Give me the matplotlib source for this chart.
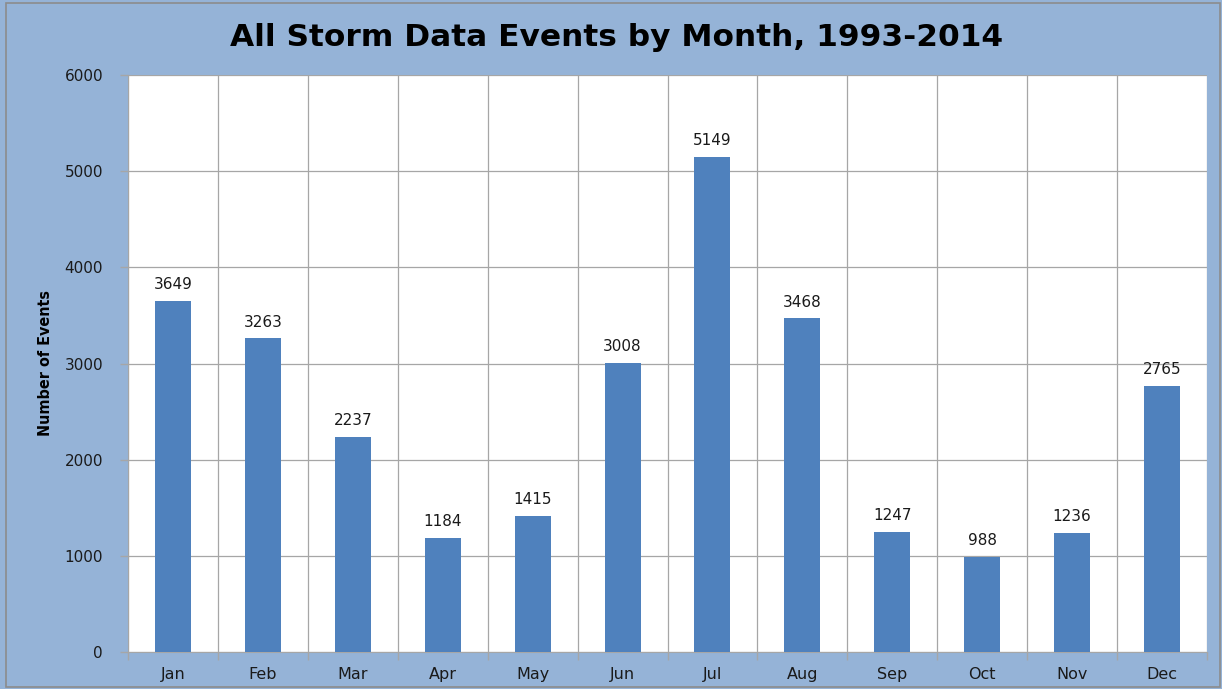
import matplotlib
matplotlib.use("Agg")
import matplotlib.pyplot as plt
from matplotlib.patches import Rectangle
import numpy as np

months = ["Jan", "Feb", "Mar", "Apr", "May", "Jun", "Jul", "Aug", "Sep", "Oct", "Nov", "Dec"]
events = [3649, 3263, 2237, 1184, 1415, 3008, 5149, 3468, 1247, 988, 1236, 2765]
yticks = [0, 1000, 2000, 3000, 4000, 5000, 6000]

BG = "#95B3D7"
BAR = "#4F81BD"
GRID = "#A6A6A6"

plt.rcParams['font.family'] = ['DejaVu Sans']

fig = plt.figure(figsize=(12.22, 6.89), dpi=100)
fig.patch.set_facecolor(BG)
fig.patches.append(Rectangle((6/1222, 2/689), 1214/1222, 684/689, transform=fig.transFigure,
                             fill=False, edgecolor="#8C8C8C", linewidth=1.2))

ax = fig.add_axes([128/1222, 37/689, 1079/1222, 577/689])
ax.set_facecolor("white")
x = np.arange(len(months))
ax.bar(x, events, width=0.4, color=BAR, zorder=3)
for xi, v in zip(x, events):
    ax.text(xi, v + 90, str(v), ha="center", va="bottom", fontsize=11, color="#1a1a1a")

ax.set_xlim(-0.5, len(months) - 0.5)
ax.set_ylim(0, 6000)
ax.set_yticks(yticks)
ax.set_yticklabels([str(t) for t in yticks], fontsize=11, color="#1a1a1a")
ax.set_xticks(x)
ax.set_xticklabels(months, fontsize=11.5, color="#1a1a1a")
ax.tick_params(axis="x", which="major", length=0, pad=11)
ax.set_xticks(np.arange(-0.5, len(months)), minor=True)
ax.tick_params(axis="x", which="minor", length=6, color=GRID, width=1)
ax.tick_params(axis="y", length=6, color=GRID, width=1, pad=12)
ax.grid(axis="y", which="major", color=GRID, linewidth=0.9, zorder=0)
ax.grid(axis="x", which="minor", color=GRID, linewidth=0.9, zorder=0)
ax.grid(axis="x", which="major", visible=False)
for s in ["top", "right"]:
    ax.spines[s].set_visible(False)
ax.spines["left"].set_color(GRID)
ax.spines["bottom"].set_color(GRID)

ax.set_ylabel("Number of Events", fontsize=11.5, fontweight="bold",
              fontstretch="condensed", family=['DejaVu Sans'], labelpad=8)
fig.text(617/1222, 1 - 37/689, "All Storm Data Events by Month, 1993-2014", ha="center", va="center",
         fontsize=22.5, fontweight="bold")

fig.savefig("out.png", dpi=100, facecolor=BG)
